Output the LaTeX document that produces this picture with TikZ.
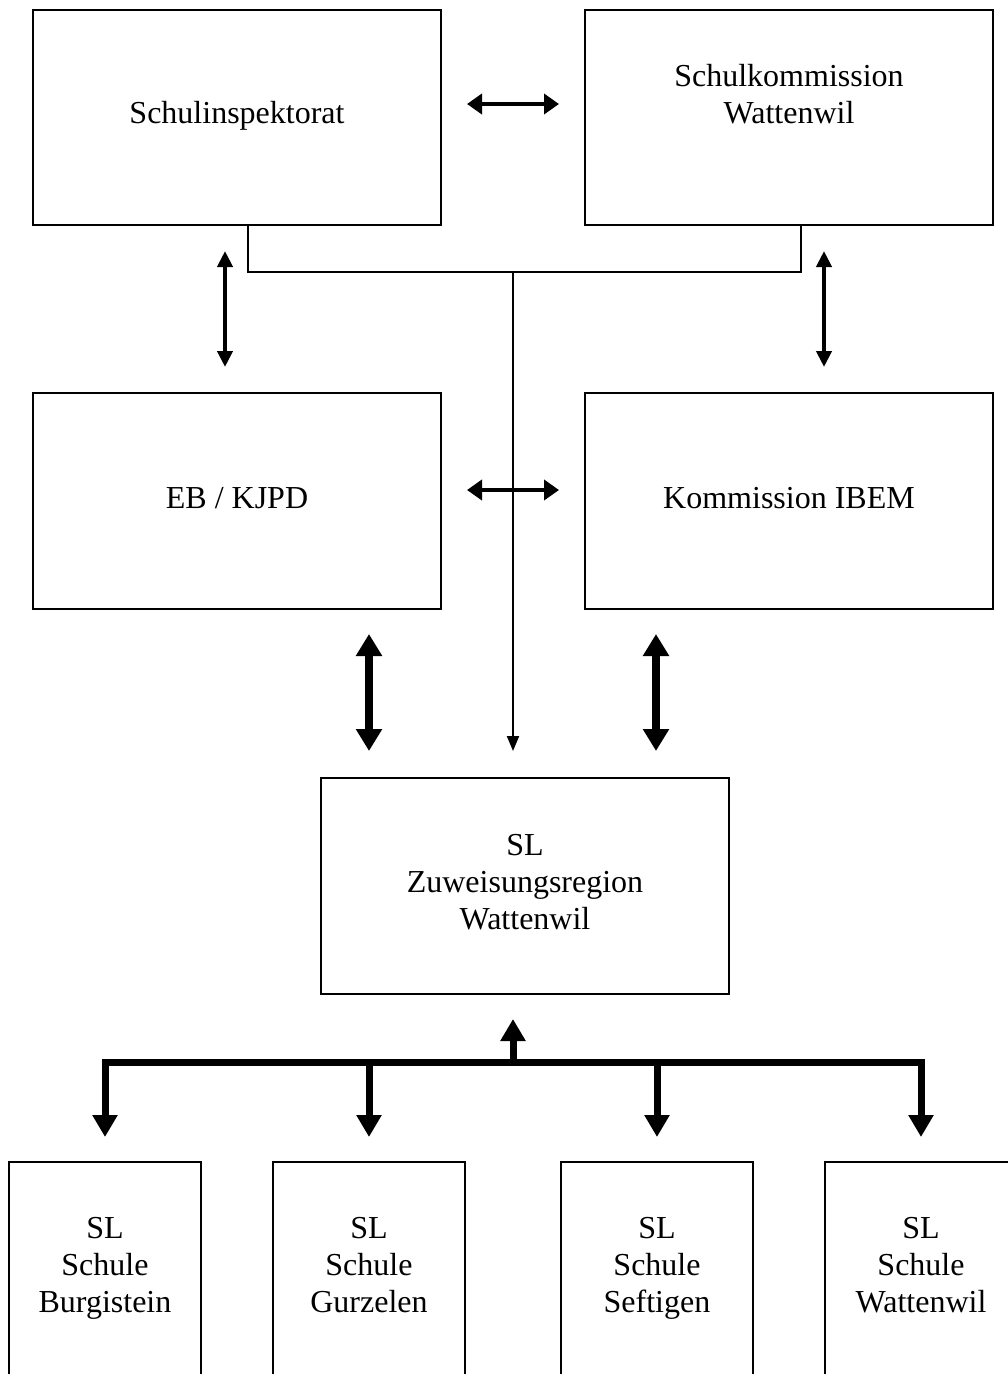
\documentclass[tikz,border=0pt]{standalone}
\usepackage{fontspec}
\setmainfont{Liberation Serif}
\usetikzlibrary{arrows.meta}
\begin{document}
\begin{tikzpicture}[x=1pt,y=-1pt,
  box/.style={draw=black, line width=2pt, fill=white, inner sep=0pt},
  lbl/.style={align=center, inner sep=0pt, font=\fontsize{32}{37}\selectfont},
  midarrow/.style={line width=4pt, {Triangle[length=15pt,width=20pt]}-{Triangle[length=15pt,width=20pt]}},
  vertarrow/.style={line width=4pt, {Triangle[length=16pt,width=15pt]}-{Triangle[length=16pt,width=15pt]}},
  fatarrow/.style={line width=8pt, {Triangle[length=22pt,width=25pt]}-{Triangle[length=22pt,width=25pt]}},
  fattip/.style={line width=7pt, -{Triangle[length=22pt,width=24pt]}},
  thinline/.style={line width=2pt},
  thintip/.style={line width=2pt, -{Triangle[length=15pt,width=12pt]}}]
\clip (0,0) rectangle (1008,1374);
\fill[white] (0,0) rectangle (1008,1374);

% upper level
\node[box, minimum width=408pt, minimum height=215pt] (insp) at (237,117.5) {};
\node[lbl] (insptxt) at (237,116) {\strut Schulinspektorat\strut};
\node[box, minimum width=408pt, minimum height=215pt] (komm) at (789,117.5) {};
\node[lbl] (kommtxt) at (789,97.5) {\strut Schulkommission\\Wattenwil\strut};

% middle level
\node[box, minimum width=408pt, minimum height=216pt] (eb) at (237,501) {};
\node[lbl] (ebtxt) at (237,501) {\strut EB / KJPD\strut};
\node[box, minimum width=408pt, minimum height=216pt] (ibem) at (789,501) {};
\node[lbl] (ibemtxt) at (789,501) {\strut Kommission IBEM\strut};

% regional school management
\node[box, minimum width=408pt, minimum height=216pt] (zuw) at (525,886) {};
\node[lbl] (zuwtxt) at (525,885) {\strut SL\\Zuweisungsregion\\Wattenwil\strut};

% individual schools (boxes run past the lower edge)
\node[box, minimum width=192pt, minimum height=300pt, anchor=north] (s1) at (105,1161) {};
\node[lbl] (s1txt) at (105,1268) {\strut SL\\Schule\\Burgistein\strut};
\node[box, minimum width=192pt, minimum height=300pt, anchor=north] (s2) at (369,1161) {};
\node[lbl] (s2txt) at (369,1268) {\strut SL\\Schule\\Gurzelen\strut};
\node[box, minimum width=192pt, minimum height=300pt, anchor=north] (s3) at (657,1161) {};
\node[lbl] (s3txt) at (657,1268) {\strut SL\\Schule\\Seftigen\strut};
\node[box, minimum width=192pt, minimum height=300pt, anchor=north] (s4) at (921,1161) {};
\node[lbl] (s4txt) at (921,1268) {\strut SL\\Schule\\Wattenwil\strut};

% links between the upper and middle boxes
\draw[midarrow] ([shift={(25,-13.5)}]insp.east) -- ([shift={(-25,-13.5)}]komm.west);
\draw[midarrow] ([shift={(25,-11)}]eb.east) -- ([shift={(-25,-11)}]ibem.west);
\draw[vertarrow] ([shift={(-12,25)}]insp.south) -- ([shift={(-12,-25)}]eb.north);
\draw[vertarrow] ([shift={(35,25)}]komm.south) -- ([shift={(35,-25)}]ibem.north);

% joint line from both upper boxes down to the region
\coordinate (jl) at (248,272);
\coordinate (jr) at (801,272);
\coordinate (jm) at (513,272);
\draw[thinline] (insp.south -| jl) -- (jl) -- (jr) -- (komm.south -| jr);
\draw[thintip] (jm) -- ([yshift=26pt]zuw.north -| jm);

% heavy links from the middle boxes to the region
\coordinate (fl) at (369,0);
\coordinate (fr) at (656,0);
\draw[fatarrow] ([yshift=-24pt]eb.south -| fl) -- ([yshift=26pt]zuw.north -| fl);
\draw[fatarrow] ([yshift=-24pt]ibem.south -| fr) -- ([yshift=26pt]zuw.north -| fr);

% distribution bus to the schools
\coordinate (bl) at (105,1062);
\coordinate (br) at (921,1062);
\coordinate (bm) at (513,1062);
\draw[line width=7pt, line cap=rect] (bl) -- (br);
\draw[fattip] (bm) -- ([yshift=-24pt]zuw.south -| bm);
\draw[fattip] (bl) -- ([yshift=24pt]s1.north);
\draw[fattip] (bl -| s2.north) -- ([yshift=24pt]s2.north);
\draw[fattip] (bl -| s3.north) -- ([yshift=24pt]s3.north);
\draw[fattip] (br) -- ([yshift=24pt]s4.north);
\end{tikzpicture}
\end{document}
